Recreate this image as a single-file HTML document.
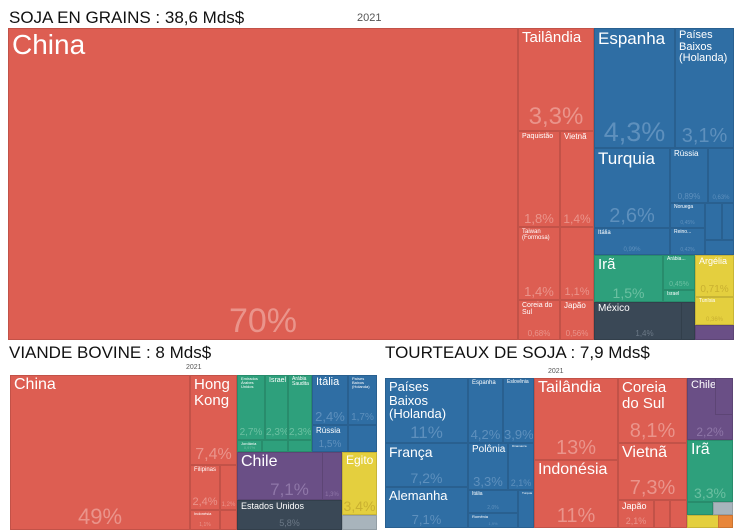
<!DOCTYPE html>
<html><head><meta charset="utf-8">
<style>
body{margin:0;width:754px;height:530px;background:#fff;overflow:hidden;position:relative;font-family:"Liberation Sans",sans-serif}
.t{position:absolute;color:#111;font-size:17px;white-space:nowrap}
.y{position:absolute;color:#555;font-size:9px}
.c{position:absolute;box-sizing:border-box;border:1px solid rgba(0,0,0,0.12);overflow:hidden}
.n{position:absolute;left:3px;top:1px;color:#fff;line-height:1.05}
.p{position:absolute;left:0;right:0;bottom:1px;text-align:center;line-height:1}
</style></head><body>
<div class="t" style="left:9px;top:8px">SOJA EN GRAINS : 38,6 Mds$</div>
<div class="y" style="left:357px;top:12px;font-size:11px">2021</div>
<div class="t" style="left:9px;top:343px">VIANDE BOVINE : 8 Mds$</div>
<div class="y" style="left:186px;top:364px;font-size:7px">2021</div>
<div class="t" style="left:385px;top:343px">TOURTEAUX DE SOJA : 7,9 Mds$</div>
<div class="y" style="left:548px;top:368px;font-size:7px">2021</div>
<script>
const COL={r:'#dd5e52',b:'#2f6ea4',g:'#2ea07c',y:'#e4cf3e',p:'#6a4f86',d:'#3a4856',o:'#e8863a',s:'#a8b4bc'};
const PC={r:'#ea948b',b:'#5e90bd',g:'#6cc0a2',y:'#c9b030',p:'#8f77a8',d:'#6b7886',o:'#f0a070',s:'#ccc'};
const names=['China','Tailândia','Paquistão','Vietnã','Taiwan (Formosa)','','Coreia do Sul','Japão','Espanha','Países Baixos (Holanda)','Turquia','Itália','Rússia','','Noruega','Reino...','','','','Irã','Arábia...','Israel','Argélia','Tunísia','','México','',
'China','Hong Kong','Filipinas','','Indonésia','','Emirados Árabes Unidos','Israel','Arábia Saudita','Jordânia','','','','Itália','Países Baixos (Holanda)','Rússia','','Chile','','Estados Unidos','Egito','Líbia','',
'Países Baixos (Holanda)','França','Alemanha','Espanha','Eslovênia','Polônia','Dinamarca','Itália','Romênia','Turquia','Tailândia','Indonésia','Coreia do Sul','Vietnã','Japão','','','Chile','','Irã','Omã','','','',''];
const pcts=['70%','3,3%','1,8%','1,4%','1,4%','1,1%','0,68%','0,56%','4,3%','3,1%','2,6%','0,99%','0,89%','0,63%','0,45%','0,42%','','','','1,5%','0,45%','','0,71%','0,36%','','1,4%','',
'49%','7,4%','2,4%','1,2%','1,1%','','2,7%','2,3%','2,3%','0,97%','','','','2,4%','1,7%','1,5%','','7,1%','1,3%','5,8%','3,4%','','',
'11%','7,2%','7,1%','4,2%','3,9%','3,3%','2,1%','2,0%','1,9%','','13%','11%','8,1%','7,3%','2,1%','','','2,2%','','3,3%','','','','',''];
const rects=[
[8,28,518,340,'r',28,34],[518,28,594,131,'r',15,24],[518,131,560,227,'r',7,13],[560,131,594,227,'r',8,12],[518,227,560,300,'r',6,13],[560,227,594,300,'r',6,11],[518,300,560,340,'r',7,8],[560,300,594,340,'r',8,8],
[594,28,675,148,'b',17,27],[675,28,734,148,'b',11,20],[594,148,670,228,'b',17,20],[594,228,670,255,'b',6,6],[670,148,708,203,'b',8,8],[708,148,734,203,'b',5,6],[670,203,705,228,'b',5,5],[670,228,705,255,'b',5,5],[705,203,722,240,'b',0,0],[722,203,734,240,'b',0,0],[705,240,734,255,'b',0,0],
[594,255,663,302,'g',15,14],[663,255,695,290,'g',5,7],[663,290,695,302,'g',5,0],[695,255,734,297,'y',9,10],[695,297,734,325,'y',5,6],[695,325,734,340,'p',0,0],[594,302,695,340,'d',10,8],[681,302,695,340,'d',0,0],
[10,375,190,530,'r',16,22],[190,375,237,465,'r',15,16],[190,465,220,510,'r',6,11],[220,465,237,510,'r',3,6],[190,510,220,530,'r',4,5],[220,510,237,530,'r',3,4],
[237,375,265,440,'g',4,10],[265,375,288,440,'g',7,10],[288,375,312,440,'g',5,10],[237,440,262,452,'g',4,4],[262,440,288,452,'g',3,0],[288,440,312,452,'g',3,0],[0,0,0,0,'g',0,0],
[312,375,348,425,'b',11,13],[348,375,377,425,'b',4,10],[312,425,348,452,'b',8,10],[348,425,377,452,'b',0,0],
[237,452,342,500,'p',16,17],[322,452,342,500,'p',0,6],[237,500,342,530,'d',9,9],[342,452,377,515,'y',12,14],[342,515,377,530,'s',0,0],[0,0,0,0,'o',0,0],
[385,378,468,443,'b',13,17],[385,443,468,487,'b',14,14],[385,487,468,528,'b',13,13],[468,378,503,443,'b',6,13],[503,378,534,443,'b',5,13],[468,443,508,490,'b',10,13],[508,443,534,490,'b',3,9],[468,490,518,513,'b',5,5],[468,513,518,528,'b',4,4],[518,490,534,528,'b',3,4],
[534,378,618,460,'r',16,20],[534,460,618,528,'r',16,20],[618,378,687,443,'r',15,20],[618,443,687,500,'r',16,20],[618,500,654,528,'r',9,9],[654,500,670,528,'r',0,0],[670,500,687,528,'r',0,0],
[687,378,733,440,'p',11,12],[715,378,733,415,'p',0,0],[687,440,733,502,'g',16,14],[687,502,713,515,'g',0,0],[713,502,733,515,'s',0,0],[687,515,733,528,'y',0,0],[718,515,733,528,'o',0,0]];
rects.forEach((r,i)=>{
  if(r[2]<=r[0])return;
  const el=document.createElement('div');
  el.className='c';
  
  
  el.style.cssText=`left:${r[0]}px;top:${r[1]}px;width:${r[2]-r[0]}px;height:${r[3]-r[1]}px;background:${COL[r[4]]}`;
  if(names[i]&&r[5]){const n=document.createElement('div');n.className='n';n.style.fontSize=r[5]+'px';n.textContent=names[i];
    
    
    el.appendChild(n);}
  if(pcts[i]&&r[6]){const p=document.createElement('div');p.className='p';p.style.fontSize=r[6]+'px';p.style.color=PC[r[4]];p.textContent=pcts[i];
    
    
    el.appendChild(p);}
  document.body.appendChild(el);
});
</script>
</body></html>
